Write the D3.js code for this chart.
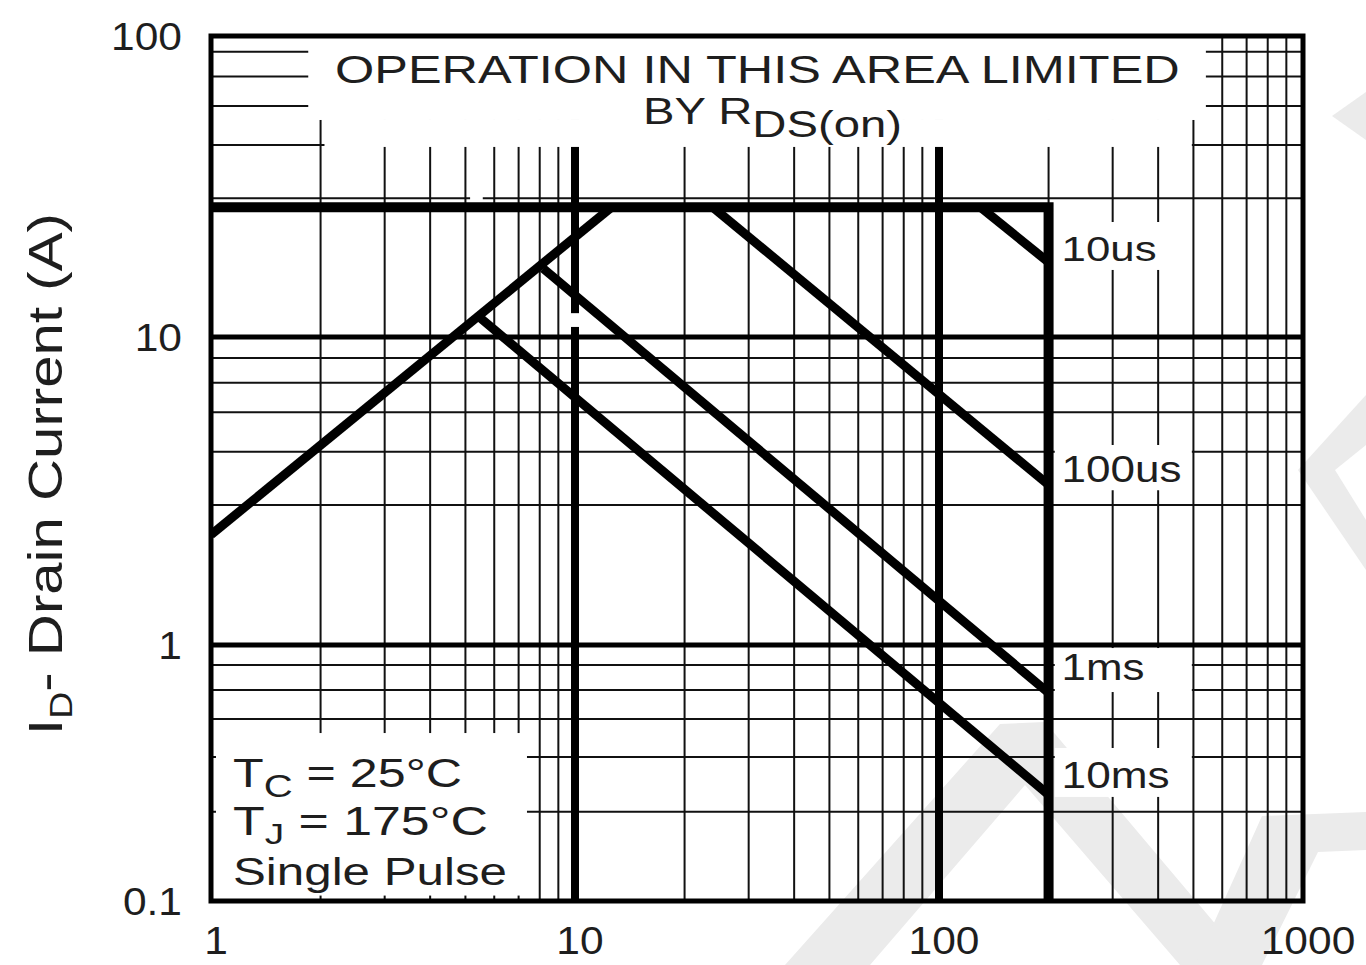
<!DOCTYPE html>
<html>
<head>
<meta charset="utf-8">
<script src="https://cdn.jsdelivr.net/npm/d3@7"></script>
<style>
body { margin: 0; background: #fff; }
text { font-family: "Liberation Sans", Arial, Helvetica, sans-serif; fill: #1e1e1e; }
</style>
</head>
<body>
<div id="chart"></div>
<script>
// axes
var xDecades = [1, 10, 100, 1000];
var xTickLabels = ["1", "10", "100", "1000"];
var xMinor = [2, 3, 4, 5, 6, 7, 8, 9, 20, 30, 40, 50, 60, 70, 80, 90, 200, 300, 400, 500, 600, 700, 800, 900];
var yDecades = [0.1, 1, 10, 100];
var yTickLabels = ["0.1", "1", "10", "100"];
var yMinor = [88.7, 73.3, 58.5, 43.4, 28.9, 8.55, 7.1, 5.7, 4.24, 2.85, 0.835, 0.667, 0.514, 0.365, 0.223];

// limits (V, A)
var currentLimit = 27;
var vdsMax = 200;
var rdsLine = [[1, 2.28], [12.6, 27]];
var pulseNames = ["10us", "100us", "1ms", "10ms"];
var pulseStart = [[130, 27], [23.9, 27], [8.17, 16.9], [5.48, 11.6]];
var pulseEnd = [[200, 17.7], [200, 3.31], [200, 0.65], [200, 0.26]];
var pulseLabelY = [17.9, 3.38, 0.73, 0.276];

// grid left blank behind the texts: [v0, v1, i0, i1]
var blankZones = [
  [1.85, 541, 100, 52.6],
  [2.05, 495, 52.6, 42.8],
  [5.15, 5.58, 29.6, 28.3],
  [9.63, 10.33, 12.0, 10.8],
  [1.032, 7.38, 0.453, 0.105],
  [208, 495, 24.1, 16.7],
  [208, 495, 4.46, 3.18],
  [208, 495, 0.973, 0.655],
  [208, 495, 0.396, 0.255]
];

var width = 1366, height = 965;

var svg = d3.select("#chart").append("svg")
    .attr("width", width)
    .attr("height", height);

var x = d3.scaleLog().domain([1, 1000]).range([211, 1303]);
var y = d3.scaleLog().domain(yDecades).range([901, 645, 337, 36]);

// faint watermark in the background
var watermark = [
  [[785, 965], [1000, 724], [1045, 722], [1250, 965], [1180, 965], [1025, 785], [870, 965]],
  [[1195, 965], [1262, 816], [1366, 812], [1366, 850], [1318, 852], [1262, 965]],
  [[1366, 395], [1366, 445], [1335, 470], [1366, 520], [1366, 570], [1298, 470]],
  [[1366, 92], [1366, 140], [1332, 116]]
];
svg.append("g").selectAll("polygon")
    .data(watermark)
    .join("polygon")
    .attr("points", function(d) { return d.join(" "); })
    .attr("fill", "#ebebeb");

var grid = svg.append("g");

grid.selectAll("line.vx")
    .data(xMinor)
    .join("line")
    .attr("class", "vx")
    .attr("x1", function(d) { return x(d); })
    .attr("x2", function(d) { return x(d); })
    .attr("y1", y(100))
    .attr("y2", y(0.1))
    .attr("stroke", "#111")
    .attr("stroke-width", 2);

grid.selectAll("line.hy")
    .data(yMinor)
    .join("line")
    .attr("class", "hy")
    .attr("x1", x(1))
    .attr("x2", x(1000))
    .attr("y1", function(d) { return y(d); })
    .attr("y2", function(d) { return y(d); })
    .attr("stroke", "#111")
    .attr("stroke-width", 2);

grid.selectAll("line.vd")
    .data(xDecades.slice(1, 3))
    .join("line")
    .attr("class", "vd")
    .attr("x1", function(d) { return x(d); })
    .attr("x2", function(d) { return x(d); })
    .attr("y1", y(100))
    .attr("y2", y(0.1))
    .attr("stroke", "#000")
    .attr("stroke-width", 8);

grid.selectAll("line.hd")
    .data(yDecades.slice(1, 3))
    .join("line")
    .attr("class", "hd")
    .attr("x1", x(1))
    .attr("x2", x(1000))
    .attr("y1", function(d) { return y(d); })
    .attr("y2", function(d) { return y(d); })
    .attr("stroke", "#000")
    .attr("stroke-width", 5);

grid.selectAll("rect")
    .data(blankZones)
    .join("rect")
    .attr("x", function(d) { return x(d[0]); })
    .attr("y", function(d) { return y(d[2]); })
    .attr("width", function(d) { return x(d[1]) - x(d[0]); })
    .attr("height", function(d) { return y(d[3]) - y(d[2]); })
    .attr("fill", "#fff");

svg.append("clipPath").attr("id", "plotclip")
    .append("rect")
    .attr("x", x(1)).attr("y", y(100))
    .attr("width", x(1000) - x(1)).attr("height", y(0.1) - y(100));

var line = d3.line()
    .x(function(d) { return x(d[0]); })
    .y(function(d) { return y(d[1]); });

var curves = svg.append("g").attr("clip-path", "url(#plotclip)");

curves.append("path")
    .attr("d", line([[1, currentLimit], [vdsMax, currentLimit], [vdsMax, 0.1]]))
    .attr("fill", "none")
    .attr("stroke", "#000")
    .attr("stroke-width", 10)
    .attr("stroke-linejoin", "miter");

curves.append("path")
    .attr("d", line(rdsLine))
    .attr("fill", "none")
    .attr("stroke", "#000")
    .attr("stroke-width", 9);

curves.selectAll("path.pulse")
    .data(pulseNames)
    .join("path")
    .attr("class", "pulse")
    .attr("d", function(d, i) { return line([pulseStart[i], pulseEnd[i]]); })
    .attr("fill", "none")
    .attr("stroke", "#000")
    .attr("stroke-width", 9);

// frame
svg.append("rect")
    .attr("x", x(1)).attr("y", y(100))
    .attr("width", x(1000) - x(1)).attr("height", y(0.1) - y(100))
    .attr("fill", "none")
    .attr("stroke", "#000")
    .attr("stroke-width", 5);

// text, stretched sideways like the original
function addText(parent, x0, y0, size, anchor, parts, fit, rotate) {
  var g = parent.append("g")
      .attr("transform", "translate(" + x0 + "," + y0 + ")" + (rotate ? " rotate(" + rotate + ")" : ""));
  var inner = g.append("g");
  var t = inner.append("text")
      .attr("font-size", size)
      .attr("text-anchor", anchor);
  parts.forEach(function(p) {
    var s = t.append("tspan").text(p.s).attr("dy", p.dy || 0);
    if (p.size) s.attr("font-size", p.size);
  });
  var sx = fit.width ? fit.width / t.node().getBBox().width : fit.sx;
  inner.attr("transform", "scale(" + sx + ",1)");
}

var labels = svg.append("g");

xDecades.forEach(function(d, i) {
  addText(labels, x(d) + 5, 954, 39, "middle", [{s: xTickLabels[i]}], {sx: 1.09});
});
yDecades.forEach(function(d, i) {
  addText(labels, 182, y(d) + 14, 39, "end", [{s: yTickLabels[i]}], {sx: 1.09});
});

addText(labels, 62, 735, 48, "start",
    [{s: "I"}, {s: "D", size: 31, dy: 10}, {s: "- Drain Current (A)", dy: -10}],
    {width: 522}, -90);

addText(labels, 335, 83, 38, "start", [{s: "OPERATION IN THIS AREA LIMITED"}], {width: 845});
addText(labels, 643, 124, 36, "start", [{s: "BY R"}, {s: "DS(on)", dy: 13}], {width: 259});

addText(labels, 233, 787, 40, "start", [{s: "T"}, {s: "C", size: 32, dy: 10}, {s: " = 25\u00b0C", dy: -10}], {width: 229});
addText(labels, 233, 835, 40, "start", [{s: "T"}, {s: "J", size: 30, dy: 9}, {s: " = 175\u00b0C", dy: -9}], {width: 255});
addText(labels, 233, 885, 38, "start", [{s: "Single Pulse"}], {width: 274});

var labelWidths = [95, 120, 83, 108];
pulseNames.forEach(function(d, i) {
  addText(labels, x(vdsMax) + 13, y(pulseLabelY[i]), 36, "start", [{s: d}], {width: labelWidths[i]});
});
</script>
</body>
</html>
